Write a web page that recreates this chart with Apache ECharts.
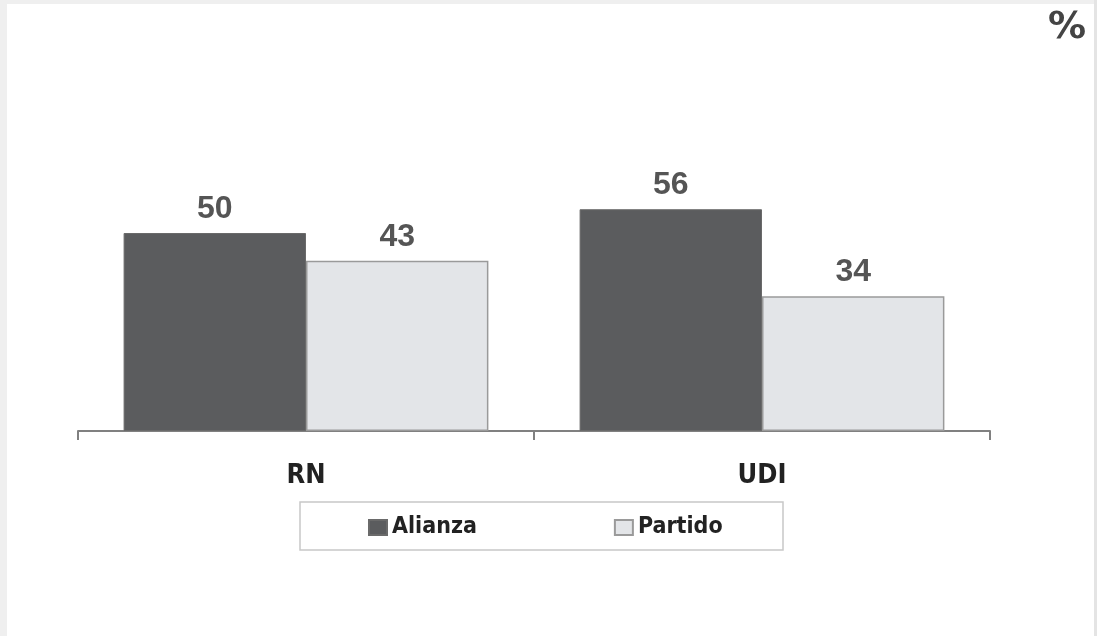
<!DOCTYPE html>
<html><head><meta charset="utf-8">
<script src="https://cdn.jsdelivr.net/npm/echarts@6/dist/echarts.min.js"></script>
<style>html,body{margin:0;padding:0;background:#fff}#c{width:1097px;height:636px}</style>
</head><body><div id="c"></div>
<script>
const categories = ['RN', 'UDI'];
const alianza = [50, 56];
const partido = [43, 34];
const seriesNames = ['Alianza', 'Partido'];

const chart = echarts.init(document.getElementById('c'), null, {renderer: 'canvas'});
const labelStyle = {show: true, position: 'top', distance: 8, color: '#555', fontSize: 32, fontWeight: 'bold', fontFamily: 'Liberation Sans, Arial, sans-serif'};
chart.setOption({
  animation: false,
  backgroundColor: '#fff',
  graphic: [
    {type: 'rect', shape: {x: 0, y: 0, width: 7, height: 636}, style: {fill: '#efefef'}, silent: true},
    {type: 'rect', shape: {x: 0, y: 0, width: 1097, height: 4}, style: {fill: '#efefef'}, silent: true},
    {type: 'rect', shape: {x: 1094, y: 0, width: 3, height: 636}, style: {fill: '#e4e4e4'}, silent: true},
    {type: 'rect', shape: {x: 300, y: 502, width: 483, height: 48}, style: {fill: 'none', stroke: '#c8c8c8', lineWidth: 1.5}, silent: true}
  ],
  title: {text: '%', right: 6, top: 4, textStyle: {fontSize: 38, fontWeight: 'bold', color: '#444', fontFamily: 'DejaVu Sans, sans-serif'}},
  grid: {left: 78, right: 107, top: 35, bottom: 205},
  legend: {
    data: seriesNames, left: 368, top: 516,
    padding: 0, itemGap: 137, itemWidth: 18, itemHeight: 15, icon: 'rect',
    textStyle: {fontSize: 23, fontWeight: 'bold', color: '#222', fontFamily: 'DejaVu Sans Condensed, DejaVu Sans, sans-serif'}
  },
  xAxis: {
    type: 'category', data: categories,
    axisLine: {lineStyle: {color: '#808080', width: 2}},
    axisTick: {show: true, length: 9, lineStyle: {color: '#808080', width: 2}},
    axisLabel: {margin: 31, fontSize: 27, fontWeight: 'bold', color: '#222', fontFamily: 'DejaVu Sans Condensed, DejaVu Sans, sans-serif'}
  },
  yAxis: {type: 'value', min: 0, max: 100, show: false, splitLine: {show: false}},
  series: [
    {name: seriesNames[0], type: 'bar', data: alianza, barGap: '0%', barCategoryGap: '20%',
     itemStyle: {color: '#5b5c5e', borderColor: '#6a6a6a', borderWidth: 1}, label: labelStyle},
    {name: seriesNames[1], type: 'bar', data: partido,
     itemStyle: {color: '#e3e5e8', borderColor: '#9a9a9a', borderWidth: 1.5}, label: labelStyle}
  ]
});
</script></body></html>
